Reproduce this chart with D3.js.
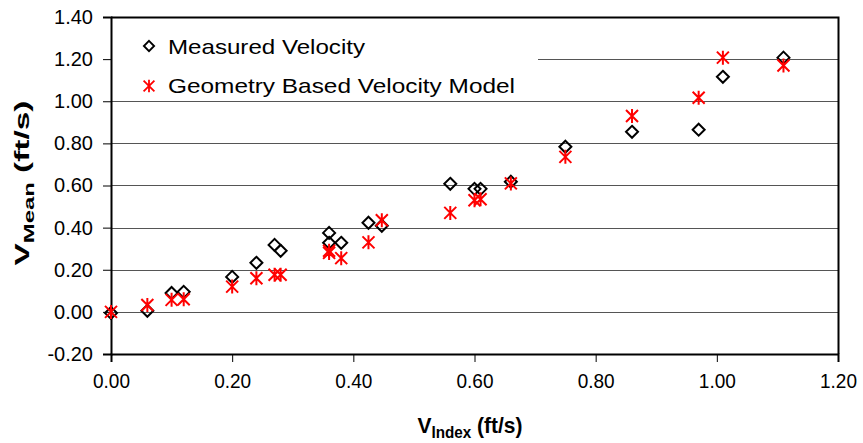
<!DOCTYPE html>
<html>
<head>
<meta charset="utf-8">
<script src="https://cdn.jsdelivr.net/npm/d3@7"></script>
<style>
  body { margin: 0; background: #fff; }
  svg { display: block; font-family: "Liberation Sans", Arial, sans-serif; }
</style>
</head>
<body>
<svg id="chart" width="863" height="443"></svg>
<script>
// values
var vIndex = [0, 0.06, 0.10, 0.12, 0.20, 0.24, 0.27, 0.28, 0.36, 0.36, 0.38, 0.425, 0.447,
              0.56, 0.60, 0.61, 0.66, 0.75, 0.86, 0.97, 1.01, 1.11];
var measured = [-0.005, 0.005, 0.09, 0.095, 0.166, 0.233, 0.318, 0.29, 0.375, 0.328, 0.328, 0.423, 0.409,
                0.608, 0.584, 0.584, 0.618, 0.784, 0.855, 0.865, 1.116, 1.207];
var modelV = [0, 0.033, 0.057, 0.06, 0.12, 0.16, 0.176, 0.176, 0.29, 0.28, 0.255, 0.33, 0.435,
              0.47, 0.53, 0.535, 0.61, 0.736, 0.93, 1.017, 1.207, 1.17];
var xTicks = [0, 0.2, 0.4, 0.6, 0.8, 1.0, 1.2];
var yTicks = [-0.2, 0, 0.2, 0.4, 0.6, 0.8, 1.0, 1.2, 1.4];
var seriesNames = ["Measured Velocity", "Geometry Based Velocity Model"];

var svg = d3.select("#chart");
var plotL = 111, plotR = 838, plotT = 17, plotB = 354;

var x = d3.scaleLinear().domain([0, 1.2]).range([plotL, plotR]);
var y = d3.scaleLinear().domain([-0.2, 1.4]).range([plotB, plotT]);
var fmt = function(d) { return d.toFixed(2); };

// gridlines
svg.append("g")
    .selectAll("line")
    .data(yTicks.slice(1, -1))
    .enter().append("line")
    .attr("x1", plotL).attr("x2", plotR)
    .attr("y1", function(d) { return Math.round(y(d)) + 0.5; })
    .attr("y2", function(d) { return Math.round(y(d)) + 0.5; })
    .attr("stroke", "#555").attr("stroke-width", 1);

// legend box covers gridlines
svg.append("rect")
    .attr("x", plotL + 1).attr("y", 24)
    .attr("width", 538 - plotL - 1).attr("height", 72)
    .attr("fill", "#fff");

// plot border (top + right)
svg.append("path")
    .attr("d", "M" + plotL + "," + (plotT + 0.5) + "H" + (plotR + 0.5) + "V" + plotB)
    .attr("fill", "none").attr("stroke", "#000").attr("stroke-width", 2);

// axes
var yAxis = svg.append("g")
    .attr("transform", "translate(" + plotL + ",0)")
    .call(d3.axisLeft(y).tickValues(yTicks).tickFormat(fmt).tickSize(8).tickPadding(6));
var xAxis = svg.append("g")
    .attr("transform", "translate(0," + plotB + ")")
    .call(d3.axisBottom(x).tickValues(xTicks).tickFormat(fmt).tickSize(8).tickPadding(12));

[xAxis, yAxis].forEach(function(a) {
  a.select(".domain").attr("stroke", "#000").attr("stroke-width", 2);
  a.selectAll(".tick line").attr("stroke", "#000").attr("stroke-width", 1);
  a.selectAll("text").attr("fill", "#000")
    .style("font-family", "'Liberation Sans', Arial, sans-serif");
});
yAxis.selectAll("text").attr("dx", "-4").style("font-size", "20px");
xAxis.selectAll("text").style("font-size", "20px")
    .attr("textLength", 37).attr("lengthAdjust", "spacingAndGlyphs");

// markers
var diamond = "M0,-6L6,0L0,6L-6,0Z";
var star = "M-6,-6L6,6M-6,6L6,-6M0,-7V7";

var pts = vIndex.map(function(v, i) { return {x: v, m: measured[i], g: modelV[i]}; });

svg.append("g").selectAll("path")
    .data(pts).enter().append("path")
    .attr("d", diamond)
    .attr("transform", function(d) { return "translate(" + x(d.x) + "," + y(d.m) + ")"; })
    .attr("fill", "none").attr("stroke", "#000").attr("stroke-width", 2);

svg.append("g").selectAll("path")
    .data(pts).enter().append("path")
    .attr("d", star)
    .attr("transform", function(d) { return "translate(" + x(d.x) + "," + y(d.g) + ")"; })
    .attr("fill", "none").attr("stroke", "#ff0000").attr("stroke-width", 2);

// legend
var legend = svg.append("g");
legend.append("path").attr("d", diamond)
    .attr("transform", "translate(149,46) scale(0.85)")
    .attr("fill", "none").attr("stroke", "#000").attr("stroke-width", 2.2);
legend.append("path").attr("d", star)
    .attr("transform", "translate(149,86) scale(0.9)")
    .attr("fill", "none").attr("stroke", "#ff0000").attr("stroke-width", 2);
legend.selectAll("text")
    .data(seriesNames).enter().append("text")
    .attr("x", 168)
    .attr("y", function(d, i) { return 54 + i * 39; })
    .attr("textLength", function(d, i) { return i === 0 ? 197 : 347; })
    .attr("lengthAdjust", "spacingAndGlyphs")
    .style("font-size", "21px")
    .text(function(d) { return d; });

// axis titles
var xt = svg.append("text")
    .attr("x", 470).attr("y", 433)
    .attr("text-anchor", "middle")
    .attr("textLength", 105).attr("lengthAdjust", "spacingAndGlyphs")
    .style("font-weight", "bold").style("font-size", "22px");
xt.append("tspan").text("V");
xt.append("tspan").attr("dy", 5).style("font-size", "16px").text("Index");
xt.append("tspan").attr("dy", -5).text(" (ft/s)");

var yt = svg.append("text")
    .attr("transform", "translate(29,183) rotate(-90)")
    .attr("text-anchor", "middle")
    .attr("textLength", 165).attr("lengthAdjust", "spacingAndGlyphs")
    .style("font-weight", "bold").style("font-size", "21px");
yt.append("tspan").text("V");
yt.append("tspan").attr("dy", 5).style("font-size", "15px").text("Mean");
yt.append("tspan").attr("dy", -5).text(" (ft/s)");
</script>
</body>
</html>
